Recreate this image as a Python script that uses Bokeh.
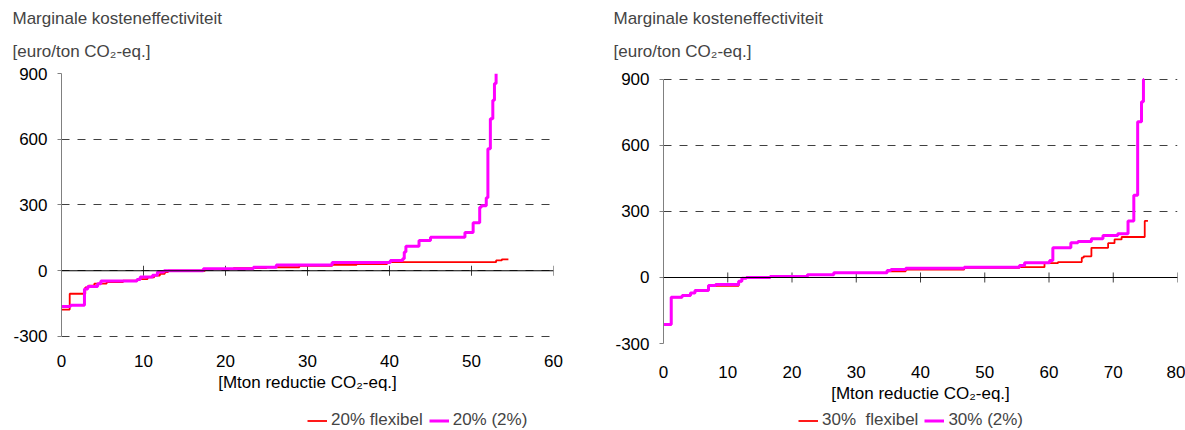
import math
from bokeh.plotting import figure
from bokeh.models import Range1d, Title, Legend, LegendItem, FixedTicker, Span
from bokeh.layouts import row, column
from bokeh.embed import file_html
from bokeh.resources import INLINE

FONT = "Liberation Sans"
FS = "17px"
RED = "#ff0000"
MAGENTA = "#ff00ff"

# ---- data ----
y_ticks = [-300, 0, 300, 600, 900]
x_ticks_20 = [0, 10, 20, 30, 40, 50, 60]
x_ticks_30 = [0, 10, 20, 30, 40, 50, 60, 70, 80]

title_line1 = "Marginale kosteneffectiviteit"
title_line2 = "[euro/ton CO\u2082-eq.]"
x_title = "[Mton reductie CO\u2082-eq.]"

# 20% chart: step start positions (Mton) and values (euro/ton)
flex20_x = [0, 1.0, 2.9, 3.3, 4.0, 5.5, 7.5, 9.3, 10.5, 11.3, 12.0, 12.6, 13.0, 17.5, 21, 25, 29, 33,
            36, 39.7, 53.0, 53.7, 54.5]
flex20_y = [-177, -105, -76, -68, -59, -52, -45, -38, -30, -22, -14, -6, 0, 8, 12, 16, 22, 27,
            30, 39, 47, 52, 52]
two20_x = [0, 1.1, 2.8, 3.2, 4.4, 4.8, 9.2, 9.6, 11.1, 11.7, 12.5, 17.3, 23.4, 26.2, 33.0, 40.1,
           41.6, 41.8, 42.0, 43.6, 45.0, 49.2, 50.2, 51.0, 51.2, 51.8, 52.0, 52.3, 52.6, 52.8, 53.0]
two20_y = [-163, -157, -83, -72, -59, -47, -40, -29, -21, -6, 0, 9, 16, 26, 38, 47,
           55, 85, 112, 138, 153, 175, 219, 290, 297, 333, 557, 694, 778, 854, 900]

# 30% chart
flex30_x = [0, 1.2, 2.9, 4.2, 4.9, 7.0, 11.7, 12.2, 12.9, 16.6, 22.4, 26.5, 34.8, 37.7, 46.8,
            55.4, 59.3, 61.4, 65.1, 65.4, 66.6, 69.2, 70.2, 71.3, 74.9, 75.4]
flex30_y = [-214, -90, -82, -71, -59, -38, -18, -3, 0, 5, 12, 21, 28, 36, 44,
            47, 65, 70, 90, 96, 135, 156, 173, 184, 257, 257]
two30_x = [0, 1.2, 2.9, 4.2, 4.9, 7.0, 8.1, 11.7, 12.2, 12.9, 16.6, 22.4, 26.5, 34.8, 35.4, 37.7,
           46.8, 55.4, 56.2, 60.1, 60.6, 63.4, 64.5, 66.6, 68.4, 70.7, 72.3, 73.2, 73.8, 74.4,
           74.7, 74.8]
two30_y = [-214, -90, -82, -71, -59, -36, -32, -17, -3, 0, 5, 12, 21, 32, 36, 42,
           47, 55, 67, 77, 135, 158, 164, 176, 191, 199, 257, 374, 708, 799,
           900, 900]

labels20 = ["20% flexibel", "20% (2%)"]
labels30 = ["30%  flexibel", "30% (2%)"]


def make_panel(xmax, x_ticks, rx, ry, mx, my, width, b_left, b_right, y_lo, y_hi,
               label_standoff, title_offset):
    p = figure(width=width, height=410, x_range=Range1d(0, xmax), y_range=Range1d(y_lo, y_hi),
               output_backend="svg", toolbar_location=None,
               min_border_left=b_left, min_border_right=b_right,
               min_border_top=73, min_border_bottom=67)
    p.outline_line_color = None
    p.xgrid.visible = False
    p.ygrid.ticker = FixedTicker(ticks=y_ticks)
    p.ygrid.grid_line_color = "#404040"
    p.ygrid.grid_line_dash = "8 8"
    p.ygrid.grid_line_width = 1

    # y axis
    ya = p.yaxis[0]
    ya.ticker = FixedTicker(ticks=y_ticks)
    ya.bounds = (y_ticks[0], y_ticks[-1])
    ya.major_label_overrides = {t: str(t) for t in y_ticks}
    ya.axis_line_color = "#808080"
    ya.major_tick_line_color = "#808080"
    ya.major_tick_out = 4
    ya.major_tick_in = 0
    ya.minor_tick_line_color = None
    ya.major_label_standoff = 10
    ya.major_label_text_font = FONT
    ya.major_label_text_font_size = FS
    ya.major_label_text_color = "black"

    # bottom axis: labels only
    xa = p.xaxis[0]
    xa.ticker = FixedTicker(ticks=x_ticks)
    xa.axis_line_color = None
    xa.major_tick_line_color = None
    xa.minor_tick_line_color = None
    xa.major_tick_out = 0
    xa.major_tick_in = 0
    xa.major_label_standoff = label_standoff
    xa.major_label_text_font = FONT
    xa.major_label_text_font_size = FS
    xa.major_label_text_color = "black"
    xa.axis_label = x_title
    xa.axis_label_text_font = FONT
    xa.axis_label_text_font_size = FS
    xa.axis_label_text_font_style = "normal"
    xa.axis_label_text_color = "black"
    xa.axis_label_standoff = 3

    # zero line with crossing tick marks
    p.add_layout(Span(location=0, dimension="width", line_color="black", line_width=1.2))
    p.scatter(x=x_ticks, y=[0] * len(x_ticks), marker="dash", size=10, angle=math.pi / 2,
              line_color="#404040", line_width=1)

    p.step(rx, ry, mode="after", line_color=RED, line_width=1.8)
    p.step(mx, my, mode="after", line_color=MAGENTA, line_width=3)

    t2 = Title(text=title_line2, align="left", offset=title_offset, text_font=FONT,
               text_font_size=FS, text_font_style="normal", standoff=25)
    t1 = Title(text=title_line1, align="left", offset=title_offset, text_font=FONT,
               text_font_size=FS, text_font_style="normal", standoff=0)
    p.add_layout(t2, "above")
    p.add_layout(t1, "above")
    return p


p1 = make_panel(60, x_ticks_20, flex20_x, flex20_y, two20_x, two20_y,
                width=600, b_left=61, b_right=47, y_lo=-332, y_hi=900,
                label_standoff=11, title_offset=-49)
p2 = make_panel(80, x_ticks_30, flex30_x, flex30_y, two30_x, two30_y,
                width=585, b_left=63, b_right=8, y_lo=-300, y_hi=927,
                label_standoff=22, title_offset=-50)

# legend strip under both charts
leg = figure(width=1185, height=20, x_range=Range1d(0, 1), y_range=Range1d(0, 1),
             output_backend="svg", toolbar_location=None,
             x_axis_location=None, y_axis_location=None,
             min_border_left=0, min_border_right=0, min_border_top=0, min_border_bottom=0)
leg.outline_line_color = None
leg.xgrid.visible = False
leg.ygrid.visible = False


def add_legend(labels, x_pos):
    # single off-range point: only serves as the legend swatch
    ra = leg.line(x=[-1], y=[-1], line_color=RED, line_width=1.8)
    rb = leg.line(x=[-1], y=[-1], line_color=MAGENTA, line_width=3)
    lg = Legend(items=[LegendItem(label=labels[0], renderers=[ra]),
                       LegendItem(label=labels[1], renderers=[rb])],
                orientation="horizontal", location=(x_pos, 0),
                glyph_width=20, glyph_height=17, label_standoff=4, spacing=6,
                padding=0, margin=0, border_line_color=None, background_fill_alpha=0,
                label_text_font=FONT, label_text_font_size=FS, label_height=17)
    leg.add_layout(lg, "center")


add_legend(labels20, 307)
add_legend(labels30, 798)

layout = column(row(p1, p2), leg)
open("out.html", "w").write(file_html(layout, INLINE))
